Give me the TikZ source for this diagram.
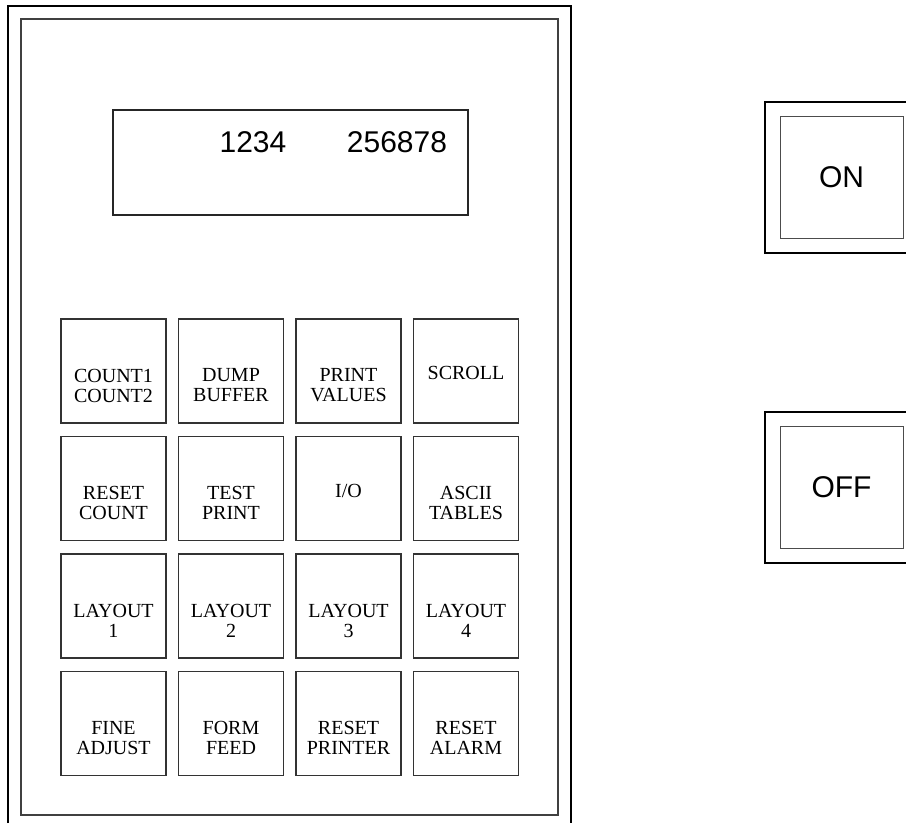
\documentclass[tikz,border=0pt]{standalone}
\usepackage{fontspec}
\setmainfont{Liberation Serif}
\newfontfamily\lcdfont{Liberation Sans}
\begin{document}
\begin{tikzpicture}[x=1pt, y=-1pt, node distance=117.5pt,
    key/.style={draw=black!80, line width=1.1pt, rectangle, minimum width=105pt, minimum height=104pt, inner sep=0pt},
    every label/.style={align=center, yshift=-2pt, font=\fontsize{20}{20}\selectfont},
    low/.style={yshift=-12.5pt},
    switch/.style={draw=black!70, line width=1pt, rectangle, minimum width=123pt, minimum height=122pt, inner sep=0pt, font=\lcdfont\fontsize{30}{30}\selectfont},
    lcd/.style={inner sep=0pt, font=\lcdfont\fontsize{30}{30}\selectfont},
    frame/.style={line width=1.8pt}]
    \useasboundingbox (0,0) rectangle (906,823);

    % housing
    \draw[frame] (8,823) -- (8,6) -- (571,6) -- (571,823);
    \draw[draw=black!75, line width=1.4pt] (21,19) rectangle (558,815);

    % display
    \node[draw=black!85, line width=1.2pt, rectangle, minimum width=355pt, minimum height=105pt] (display) at (290.5,162.5) {};
    \node[lcd] (count_val) at (253,142) {1234};
    \node[lcd] (total_val) at (397,142) {256878};

    % keys
    \node[key, label={[low]center:COUNT1\\COUNT2}] (count_keys) at (113.5,371) {};
    \node[key, label={[low]center:DUMP\\BUFFER}] (dump_buffer) [right of=count_keys] {};
    \node[key, label={[low]center:PRINT\\VALUES}] (print_values) [right of=dump_buffer] {};
    \node[key, label={center:SCROLL}] (scroll) [right of=print_values] {};

    \node[key, label={[low]center:RESET\\COUNT}] (reset_count) [below of=count_keys] {};
    \node[key, label={[low]center:TEST\\PRINT}] (test_print) [right of=reset_count] {};
    \node[key, label={center:I/O}] (io) [right of=test_print] {};
    \node[key, label={[low]center:ASCII\\TABLES}] (ascii_tables) [right of=io] {};

    \node[key, label={[low]center:LAYOUT\\1}] (layout_a) [below of=reset_count] {};
    \node[key, label={[low]center:LAYOUT\\2}] (layout_b) [right of=layout_a] {};
    \node[key, label={[low]center:LAYOUT\\3}] (layout_c) [right of=layout_b] {};
    \node[key, label={[low]center:LAYOUT\\4}] (layout_d) [right of=layout_c] {};

    \node[key, label={[low]center:FINE\\ADJUST}] (fine_adjust) [below of=layout_a] {};
    \node[key, label={[low]center:FORM\\FEED}] (form_feed) [right of=fine_adjust] {};
    \node[key, label={[low]center:RESET\\PRINTER}] (reset_printer) [right of=form_feed] {};
    \node[key, label={[low]center:RESET\\ALARM}] (reset_alarm) [right of=reset_printer] {};

    % power switches
    \draw[frame] (906,102) -- (765,102) -- (765,253) -- (906,253);
    \node[switch] (on) at (841.5,177) {ON};
    \draw[frame] (906,412) -- (765,412) -- (765,563) -- (906,563);
    \node[switch] (off) at (841.5,487.5) {OFF};
\end{tikzpicture}
\end{document}
